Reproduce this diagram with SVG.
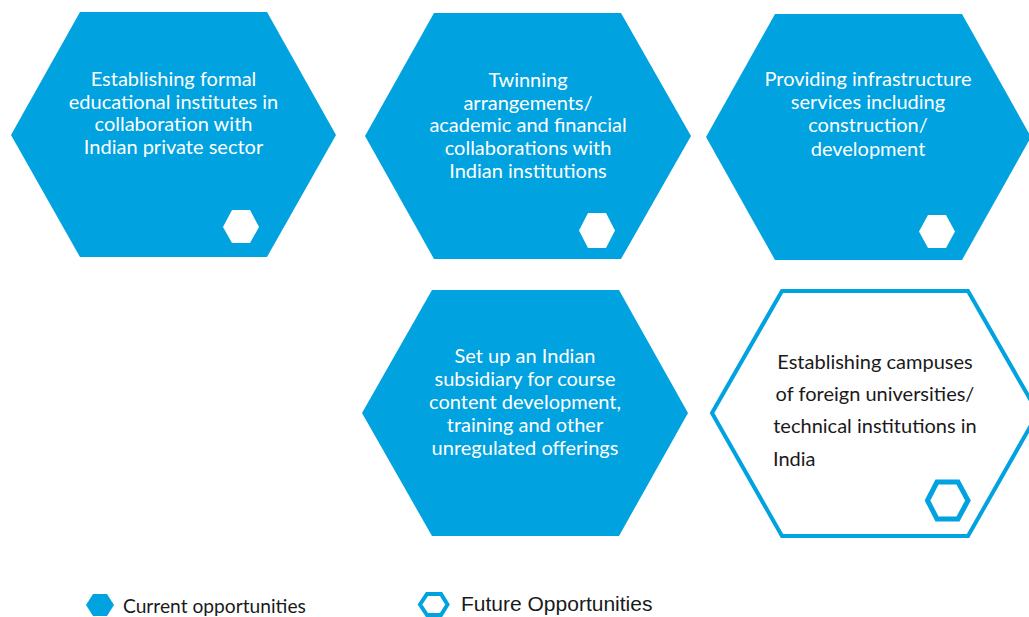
<svg xmlns="http://www.w3.org/2000/svg" width="1029" height="617" viewBox="0 0 1029 617">
<style>
.hex{fill:#00A2DF}
.ohex{fill:none;stroke:#00A2DF;stroke-width:4;stroke-linejoin:miter}
.small{fill:#FFFFFF}
.wt{font-family:Lato,"Open Sans",sans-serif;font-size:20px;fill:#FFFFFF;text-anchor:middle}
.dt{font-family:Lato,"Open Sans",sans-serif;font-size:20px;fill:#1A1A1A}
.lg{font-family:Lato,"Open Sans",sans-serif;font-size:19.2px;fill:#1A1A1A}
.lg2{font-family:"Liberation Sans",Arial,sans-serif;font-size:21px;fill:#1A1A1A}
</style>
<rect width="1029" height="617" fill="#FFFFFF"/>
<g id="node1">
<polygon class="hex" points="80,12 267,12 336,135 267,257 80,257 11,135"/>
<polygon class="small" points="223,227 232,210 250,210 259,227 250,243 232,243"/>
<text class="wt" x="173.5" y="85.5">Establishing formal</text>
<text class="wt" x="173.5" y="108.5">educational institutes in</text>
<text class="wt" x="173.5" y="131">collaboration with</text>
<text class="wt" x="173.5" y="154">Indian private sector</text>
</g>
<g id="node2">
<polygon class="hex" points="434,13 621,13 691,136 621,259 434,259 365,136"/>
<polygon class="small" points="579,230.5 588,213 606,213 615,230.5 606,248 588,248"/>
<text class="wt" x="528" y="86.7">Twinning</text>
<text class="wt" x="528" y="109.5">arrangements/</text>
<text class="wt" x="528" y="132.3">academic and financial</text>
<text class="wt" x="528" y="155">collaborations with</text>
<text class="wt" x="528" y="178.3">Indian institutions</text>
</g>
<g id="node3">
<polygon class="hex" points="775,14 962,14 1031,137 962,260 775,260 706,137"/>
<polygon class="small" points="919,231.5 928,215 946,215 955,231.5 946,248 928,248"/>
<text class="wt" x="868" y="86">Providing infrastructure</text>
<text class="wt" x="868" y="109.3">services including</text>
<text class="wt" x="868" y="132.3">construction/</text>
<text class="wt" x="868" y="155.7">development</text>
</g>
<g id="node4">
<polygon class="hex" points="432,290 619,290 688,413 619,536 432,536 362,413"/>
<text class="wt" x="525" y="362.7">Set up an Indian</text>
<text class="wt" x="525" y="386">subsidiary for course</text>
<text class="wt" x="525" y="408.7">content development,</text>
<text class="wt" x="525" y="432.3">training and other</text>
<text class="wt" x="525" y="455">unregulated offerings</text>
</g>
<g id="node5">
<polygon class="ohex" points="782,291 968,291 1038,413 968,536 782,536 712,413"/>
<polygon class="ohex" style="stroke-width:5" points="927.5,500.5 937,482 958,482 968,500.5 958,519 937,519"/>
<text class="dt" x="875" y="369.3" text-anchor="middle">Establishing campuses</text>
<text class="dt" x="875" y="400.7" text-anchor="middle">of foreign universities/</text>
<text class="dt" x="875" y="433.3" text-anchor="middle">technical institutions in</text>
<text class="dt" x="773" y="465.7">India</text>
</g>
<g id="connectors"></g>
<g id="legend">
<polygon class="hex" points="86,605 93,594 107,594 114,605 107,616 93,616"/>
<text class="lg" x="123" y="613">Current opportunities</text>
<polygon class="ohex" points="420,604.5 427,594 441,594 447.5,604.5 441,615 427,615"/>
<text class="lg2" x="461" y="611">Future Opportunities</text>
</g>
</svg>
